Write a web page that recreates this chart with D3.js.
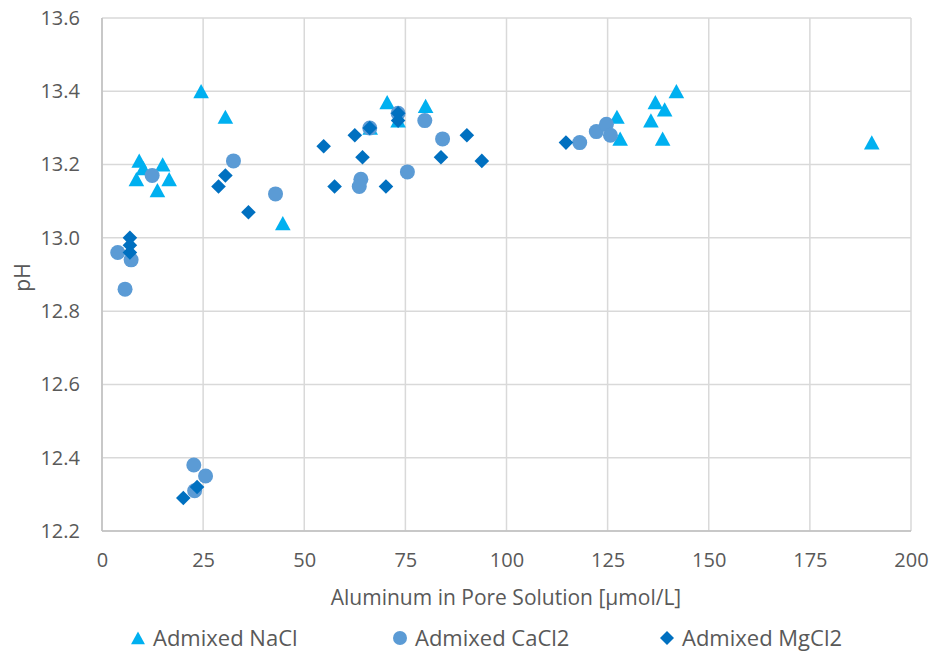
<!DOCTYPE html>
<html>
<head>
<meta charset="utf-8">
<script src="https://cdn.jsdelivr.net/npm/d3@7"></script>
<style>
	body { margin: 0; background: #fff; }
	text { font-family: "Open Sans", sans-serif; fill: #595959; }
</style>
</head>
<body>
<svg id="chart" width="935" height="658"></svg>
<script>
//////////////////////// Data ////////////////////////
var seriesNames = ["Admixed NaCl", "Admixed CaCl2", "Admixed MgCl2"];

// [aluminum µmol/L, pH]
var naclPoints = [
	[24.5, 13.40], [30.5, 13.33], [9.2, 13.21], [10.2, 13.19], [8.5, 13.16],
	[15.0, 13.20], [16.6, 13.16], [13.7, 13.13], [44.7, 13.04], [66.3, 13.30],
	[70.5, 13.37], [73.2, 13.32], [80.0, 13.36], [127.3, 13.33], [128.1, 13.27],
	[136.8, 13.37], [139.1, 13.35], [135.7, 13.32], [138.6, 13.27], [142.0, 13.40],
	[190.3, 13.26]
];
var caclPoints = [
	[3.9, 12.96], [7.2, 12.94], [5.7, 12.86], [12.4, 13.17], [32.5, 13.21],
	[42.9, 13.12], [22.7, 12.38], [25.6, 12.35], [22.9, 12.31], [66.2, 13.30],
	[73.2, 13.34], [79.8, 13.32], [84.2, 13.27], [75.5, 13.18], [64.0, 13.16],
	[63.6, 13.14], [118.1, 13.26], [122.2, 13.29], [124.7, 13.31], [125.7, 13.28]
];
var mgclPoints = [
	[6.9, 13.00], [6.9, 12.98], [6.9, 12.96], [30.5, 13.17], [28.8, 13.14],
	[36.2, 13.07], [20.1, 12.29], [23.5, 12.32], [54.8, 13.25], [62.5, 13.28],
	[64.4, 13.22], [57.5, 13.14], [70.2, 13.14], [66.2, 13.30], [73.2, 13.34],
	[73.2, 13.32], [90.2, 13.28], [83.8, 13.22], [93.9, 13.21], [114.7, 13.26]
];

var xTicks = [0, 25, 50, 75, 100, 125, 150, 175, 200];
var yTicks = [12.2, 12.4, 12.6, 12.8, 13.0, 13.2, 13.4, 13.6];

var colors = ["#00B0F0", "#5B9BD5", "#0070C0"];

//////////////////////// Setup ////////////////////////
var svg = d3.select("#chart");

var margin = { left: 102, right: 24, top: 18, bottom: 127 },
	width = 935 - margin.left - margin.right,
	height = 658 - margin.top - margin.bottom;

var g = svg.append("g").attr("transform", "translate(" + margin.left + "," + margin.top + ")");

var xScale = d3.scaleLinear().domain([0, 200]).range([0, width]);
var yScale = d3.scaleLinear().domain([12.2, 13.6]).range([height, 0]);

//Gridlines
g.selectAll(".h-grid")
	.data(yTicks)
	.enter().append("line")
	.attr("x1", 0).attr("x2", width)
	.attr("y1", function(d) { return yScale(d); })
	.attr("y2", function(d) { return yScale(d); })
	.style("stroke", "#D9D9D9")
	.style("stroke-width", 1.5);

g.selectAll(".v-grid")
	.data(xTicks)
	.enter().append("line")
	.attr("y1", 0).attr("y2", height)
	.attr("x1", function(d) { return xScale(d); })
	.attr("x2", function(d) { return xScale(d); })
	.style("stroke", "#D9D9D9")
	.style("stroke-width", 1.5);

//Axis lines
g.append("line").attr("x1", 0).attr("x2", width).attr("y1", height).attr("y2", height)
	.style("stroke", "#BFBFBF").style("stroke-width", 1.5);
g.append("line").attr("x1", 0).attr("x2", 0).attr("y1", 0).attr("y2", height)
	.style("stroke", "#BFBFBF").style("stroke-width", 1.5);

//Tick labels
var xAxis = d3.axisBottom(xScale).tickValues(xTicks).tickSize(0).tickPadding(22);
g.append("g").attr("class", "x-axis").attr("transform", "translate(0," + height + ")").call(xAxis);

var yAxis = d3.axisLeft(yScale).tickValues(yTicks).tickSize(0).tickPadding(22).tickFormat(d3.format(".1f"));
g.append("g").attr("class", "y-axis").call(yAxis);

svg.selectAll(".x-axis .domain, .y-axis .domain").remove();
svg.selectAll(".x-axis text, .y-axis text")
	.style("font-size", "20px")
	.style("font-family", "'Open Sans', sans-serif")
	.style("fill", "#595959");

//Axis titles
svg.append("text")
	.attr("x", 506)
	.attr("y", 598)
	.attr("dy", "0.35em")
	.style("text-anchor", "middle")
	.style("font-size", "21px")
	.text("Aluminum in Pore Solution [µmol/L]");

svg.append("text")
	.attr("transform", "translate(" + 23 + "," + (margin.top + height / 2 + 3) + ")rotate(-90)")
	.attr("dy", "0.35em")
	.style("text-anchor", "middle")
	.style("font-size", "21px")
	.text("pH");

//////////////////////// Markers ////////////////////////
function trianglePath(s) { return "M0," + (-s) + "L" + (s * 1.07) + "," + (s * 0.95) + "L" + (-s * 1.07) + "," + (s * 0.95) + "Z"; }
function diamondPath(s) { return "M0," + (-s) + "L" + s + ",0L0," + s + "L" + (-s) + ",0Z"; }

var markerShapes = [
	function(sel) { sel.append("path").attr("d", trianglePath(7.3)); },
	function(sel) { sel.append("circle").attr("r", 7.5); },
	function(sel) { sel.append("path").attr("d", diamondPath(7.3)); }
];

var allSeries = [naclPoints, caclPoints, mgclPoints];

allSeries.forEach(function(points, i) {
	var pts = g.append("g").attr("class", "series-" + i)
		.selectAll(".pt")
		.data(points)
		.enter().append("g")
		.attr("transform", function(d) { return "translate(" + xScale(d[0]) + "," + yScale(d[1]) + ")"; })
		.style("fill", colors[i]);
	markerShapes[i](pts);
});

//////////////////////// Legend ////////////////////////
var legendX = [138, 400, 667];
var legend = svg.selectAll(".legend-item")
	.data(seriesNames)
	.enter().append("g")
	.attr("class", "legend-item")
	.attr("transform", function(d, i) { return "translate(" + legendX[i] + "," + 638 + ")"; });

legend.each(function(d, i) {
	var item = d3.select(this).append("g").style("fill", colors[i]);
	if (i === 0) item.append("path").attr("d", trianglePath(6.5));
	else if (i === 1) item.append("circle").attr("r", 7);
	else item.append("path").attr("d", diamondPath(7));
});

legend.append("text")
	.attr("x", 15)
	.attr("dy", "0.35em")
	.style("font-size", "22px")
	.text(function(d) { return d; });
</script>
</body>
</html>
